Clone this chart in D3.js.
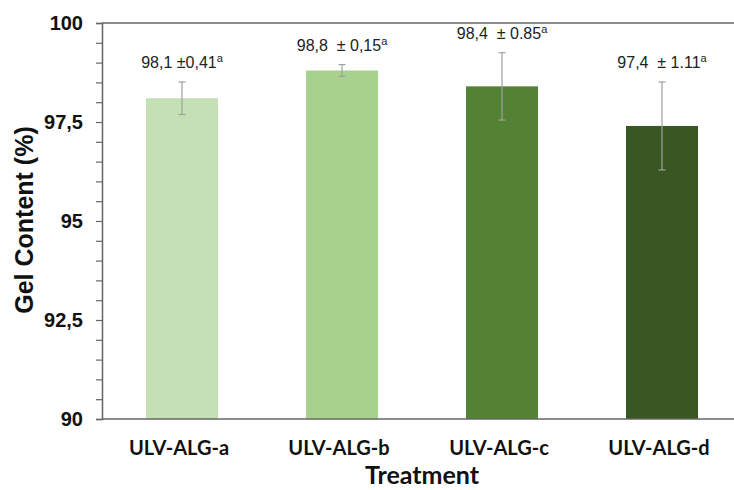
<!DOCTYPE html>
<html>
<head>
<meta charset="utf-8">
<script src="https://cdn.jsdelivr.net/npm/d3@7"></script>
<style>
  body { margin: 0; background: #fff; }
  svg { display: block; }
</style>
</head>
<body>
<div id="vis"></div>
<script>
// data
var treatments = ["ULV-ALG-a", "ULV-ALG-b", "ULV-ALG-c", "ULV-ALG-d"];
var gelContent = [98.1, 98.8, 98.4, 97.4];
var gelError   = [0.41, 0.15, 0.85, 1.11];
var labelText  = ["98,1 \u00b10,41", "98,8  \u00b1 0,15", "98,4  \u00b1 0.85", "97,4  \u00b1 1.11"];
var labelSup   = ["a", "a", "a", "a"];
var barColors  = ["#c5e0b4", "#a9d18e", "#548235", "#385723"];
var yTicks     = [90, 92.5, 95, 97.5, 100];

var W = 734, H = 490;
var mL = 102, mR = 742, mT = 23, mB = 419;   // plot box

var svg = d3.select("#vis").append("svg")
  .attr("width", W)
  .attr("height", H);

var x = d3.scaleBand()
  .domain(treatments)
  .range([mL, mR])
  .paddingInner(0.55)
  .paddingOuter(0.275);

var y = d3.scaleLinear()
  .domain([90, 100])
  .range([mB, mT]);

// bars
svg.selectAll("rect.bar")
  .data(treatments)
 .enter().append("rect")
  .attr("class", "bar")
  .attr("x", function(d){ return x(d); })
  .attr("width", x.bandwidth())
  .attr("y", function(d, i){ return y(gelContent[i]); })
  .attr("height", function(d, i){ return y(90) - y(gelContent[i]); })
  .attr("fill", function(d, i){ return barColors[i]; });

// error bars
var eb = svg.selectAll("g.err")
  .data(treatments)
 .enter().append("g")
  .attr("class", "err")
  .attr("stroke", "#a0a0a0")
  .attr("stroke-width", 1.2);
eb.append("line")
  .attr("x1", function(d){ return x(d) + x.bandwidth()/2; })
  .attr("x2", function(d){ return x(d) + x.bandwidth()/2; })
  .attr("y1", function(d, i){ return y(gelContent[i] + gelError[i]); })
  .attr("y2", function(d, i){ return y(gelContent[i] - gelError[i]); });
[1, -1].forEach(function(s){
  eb.append("line")
    .attr("x1", function(d){ return x(d) + x.bandwidth()/2 - 3.5; })
    .attr("x2", function(d){ return x(d) + x.bandwidth()/2 + 3.5; })
    .attr("y1", function(d, i){ return y(gelContent[i] + s*gelError[i]); })
    .attr("y2", function(d, i){ return y(gelContent[i] + s*gelError[i]); });
});

// value labels
var lab = svg.selectAll("text.val")
  .data(treatments)
 .enter().append("text")
  .attr("class", "val")
  .attr("x", function(d){ return x(d) + x.bandwidth()/2; })
  .attr("y", function(d, i){ return y(gelContent[i] + gelError[i]) - 14; })
  .attr("text-anchor", "middle")
  .attr("font-family", "'Liberation Sans', Arial, sans-serif")
  .attr("font-size", 16)
  .attr("fill", "#222")
  .style("white-space", "pre");
lab.append("tspan").text(function(d, i){ return labelText[i]; });
lab.append("tspan")
  .attr("dy", -6)
  .attr("font-size", 11)
  .text(function(d, i){ return labelSup[i]; });

// y axis with minor ticks every 0.5
var yAxis = d3.axisLeft(y)
  .tickValues(d3.range(90, 100.01, 0.5))
  .tickSize(6)
  .tickFormat(function(v){ return yTicks.indexOf(v) >= 0 ? String(v).replace(".", ",") : ""; });
var gy = svg.append("g")
  .attr("transform", "translate(" + mL + ",0)")
  .call(yAxis);
gy.select(".domain").attr("stroke", "#666").attr("stroke-width", 1.5);
gy.selectAll(".tick line").attr("stroke", "#666").attr("stroke-width", 1.2);
gy.selectAll(".tick text")
  .attr("x", -19)
  .attr("font-family", "'Liberation Sans', Arial, sans-serif")
  .attr("font-weight", "bold")
  .attr("font-size", 20)
  .attr("fill", "#111");

// bottom axis line and top border
svg.append("line")
  .attr("x1", mL).attr("x2", mR)
  .attr("y1", mB).attr("y2", mB)
  .attr("stroke", "#666").attr("stroke-width", 1.5);
svg.append("line")
  .attr("x1", mL).attr("x2", mR)
  .attr("y1", mT).attr("y2", mT)
  .attr("stroke", "#666").attr("stroke-width", 1.5);

// category labels
svg.selectAll("text.cat")
  .data(treatments)
 .enter().append("text")
  .attr("class", "cat")
  .attr("x", function(d){ return x(d) + x.bandwidth()/2 - 3; })
  .attr("y", 455)
  .attr("text-anchor", "middle")
  .attr("font-family", "Lato, 'Open Sans', sans-serif")
  .attr("font-weight", "bold")
  .attr("font-size", 20)
  .attr("fill", "#111")
  .text(function(d){ return d; });

// axis titles
svg.append("text")
  .attr("x", (mL + mR) / 2)
  .attr("y", 484)
  .attr("text-anchor", "middle")
  .attr("font-family", "Lato, 'Open Sans', sans-serif")
  .attr("font-weight", "bold")
  .attr("font-size", 25)
  .attr("fill", "#111")
  .text("Treatment");

svg.append("text")
  .attr("transform", "translate(33,220) rotate(-90)")
  .attr("text-anchor", "middle")
  .attr("font-family", "'Liberation Sans', Arial, sans-serif")
  .attr("font-weight", "bold")
  .attr("font-size", 25)
  .attr("fill", "#111")
  .text("Gel Content (%)");
</script>
</body>
</html>
